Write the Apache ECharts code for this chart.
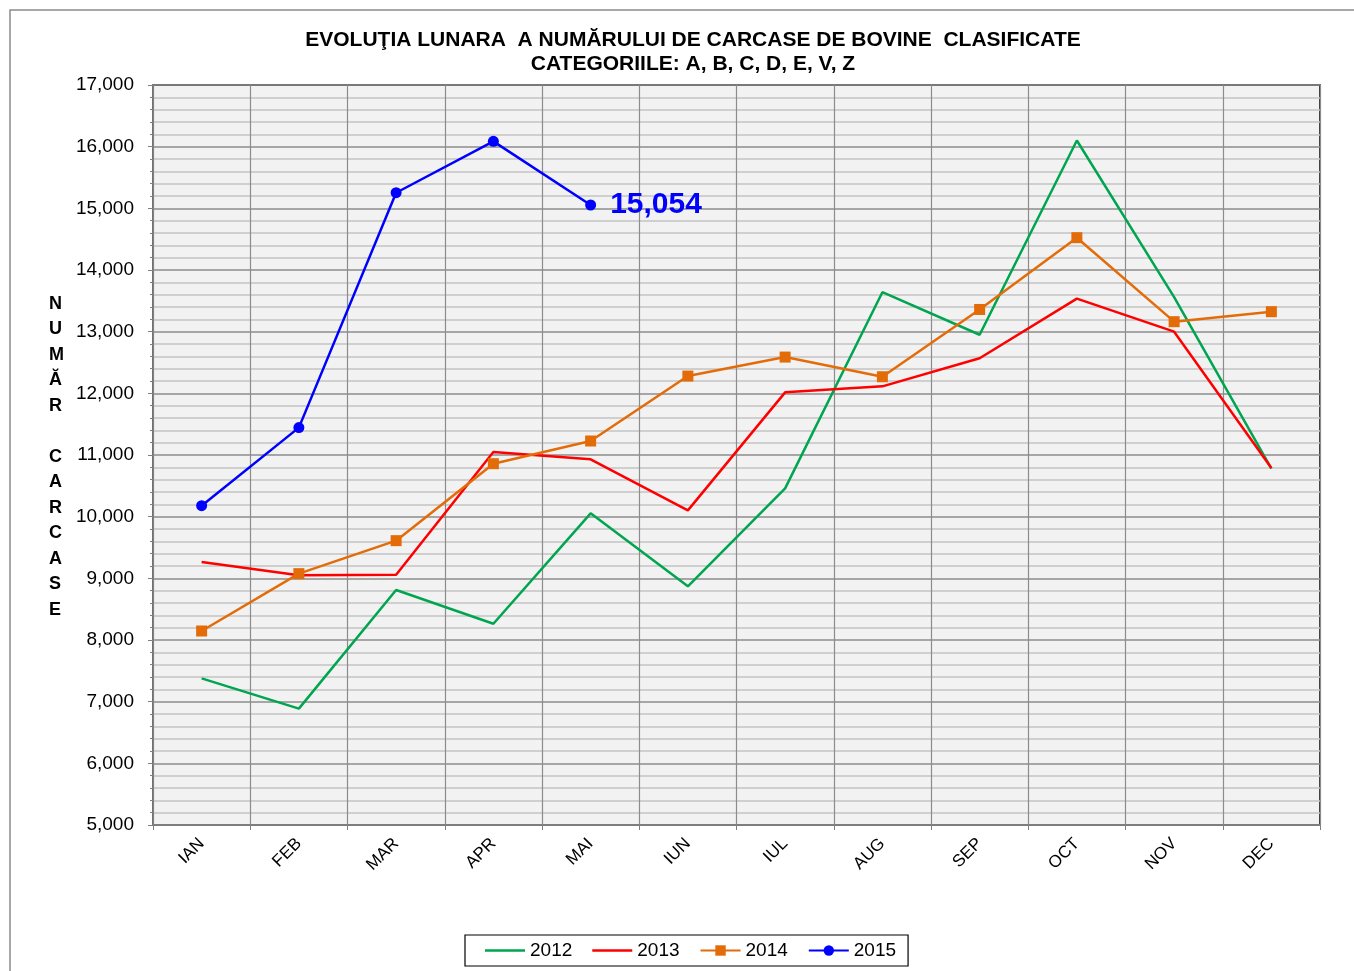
<!DOCTYPE html>
<html><head><meta charset="utf-8">
<script src="https://cdn.jsdelivr.net/npm/echarts@6/dist/echarts.min.js"></script>
<style>html,body{margin:0;padding:0;background:#fff}#c{width:1354px;height:971px}</style>
</head><body><div id="c"></div>
<script>
const months = ['IAN','FEB','MAR','APR','MAI','IUN','IUL','AUG','SEP','OCT','NOV','DEC'];
const s2012 = [7378, 6887, 8811, 8264, 10054, 8870, 10459, 13640, 12950, 16100, 13560, 10780];
const s2013 = [9264, 9049, 9059, 11049, 10930, 10102, 12016, 12113, 12568, 13535, 13000, 10790];
const s2014 = [8146, 9076, 9611, 10859, 11227, 12280, 12588, 12269, 13360, 14524, 13162, 13324];
const s2015 = [10178, 11444, 15253, 16086, 15054];
const yTicks = [5000, 17000, 1000];

const FONT = '"Liberation Sans", Arial, sans-serif';
const lineIcon = 'path://M0,0L0.01,0M0,5L40,5L40,7.6L0,7.6ZM39.99,12.6L40,12.6';
const chart = echarts.init(document.getElementById('c'));
const fmt = v => v.toLocaleString('en-US');
chart.setOption({
  animation: false,
  textStyle: { fontFamily: FONT },
  title: {
    text: 'EVOLUŢIA LUNARA  A NUMĂRULUI DE CARCASE DE BOVINE  CLASIFICATE\nCATEGORIILE: A, B, C, D, E, V, Z',
    left: 688, top: 23, textAlign: 'center',
    textStyle: { fontSize: 21, fontWeight: 'bold', color: '#000', lineHeight: 24, fontFamily: FONT }
  },
  grid: { left: 153, right: 34, top: 85, bottom: 146, show: true, backgroundColor: '#f2f2f2', borderColor: '#000', borderWidth: 1.5, containLabel: false },
  legend: {
    bottom: 5, left: 465,
    data: [{ name: '2012', icon: lineIcon }, { name: '2013', icon: lineIcon }, '2014', '2015'],
    itemWidth: 40, itemHeight: 13, itemGap: 20,
    padding: [6, 12, 6, 20],
    borderColor: '#000', borderWidth: 1.2, borderRadius: 0,
    textStyle: { fontSize: 19, color: '#000', padding: [0, 0, 0, 0] }
  },
  xAxis: {
    type: 'category', data: months, boundaryGap: true,
    axisLine: { lineStyle: { color: '#808080', width: 1.5 } },
    axisTick: { show: true, length: 5, lineStyle: { color: '#808080' } },
    axisLabel: { rotate: 45, fontSize: 17, color: '#000', margin: 16 },
    splitLine: { show: true, lineStyle: { color: '#8c8c8c', width: 1.2 } }
  },
  yAxis: {
    type: 'value', min: yTicks[0], max: yTicks[1], interval: yTicks[2],
    axisLine: { show: true, lineStyle: { color: '#808080', width: 1.5 } },
    axisTick: { show: true, length: 5, lineStyle: { color: '#808080' } },
    minorTick: { show: true, splitNumber: 5, length: 3, lineStyle: { color: '#808080' } },
    axisLabel: { fontSize: 19, color: '#000', margin: 19, formatter: fmt },
    splitLine: { show: true, lineStyle: { color: '#8c8c8c', width: 1.5 } },
    minorSplitLine: { show: true, lineStyle: { color: '#c4c4c4', width: 1.5 } }
  },
  graphic: [
    { type: 'rect', shape: { x: 10, y: 10, width: 1400, height: 1000 }, style: { fill: 'none', stroke: '#8c8c8c', lineWidth: 1.5 }, z: -10, silent: true },
    { type: 'text', left: 49, top: 291, style: { text: 'N\nU\nM\nĂ\nR\n\nC\nA\nR\nC\nA\nS\nE', font: 'bold 18px "Liberation Sans", Arial, sans-serif', fill: '#000', lineHeight: 25.5, align: 'center' } }
  ],
  series: [
    { name: '2012', type: 'line', data: s2012, symbol: 'none', lineStyle: { color: '#00a550', width: 2.5 }, itemStyle: { color: '#00a550' } },
    { name: '2013', type: 'line', data: s2013, symbol: 'none', lineStyle: { color: '#ff0000', width: 2.5 }, itemStyle: { color: '#ff0000' } },
    { name: '2014', type: 'line', data: s2014, symbol: 'rect', symbolSize: 11, lineStyle: { color: '#e36c09', width: 2.5 }, itemStyle: { color: '#e36c09' } },
    { name: '2015', type: 'line', data: s2015.map((v, i) => i === s2015.length - 1 ? { value: v, label: { show: true, position: 'right', distance: 14, formatter: p => fmt(p.value), fontSize: 30, fontWeight: 'bold', color: '#0000ff' } } : v),
      symbol: 'circle', symbolSize: 11, lineStyle: { color: '#0000ff', width: 2.5 }, itemStyle: { color: '#0000ff' } }
  ]
});
</script></body></html>
